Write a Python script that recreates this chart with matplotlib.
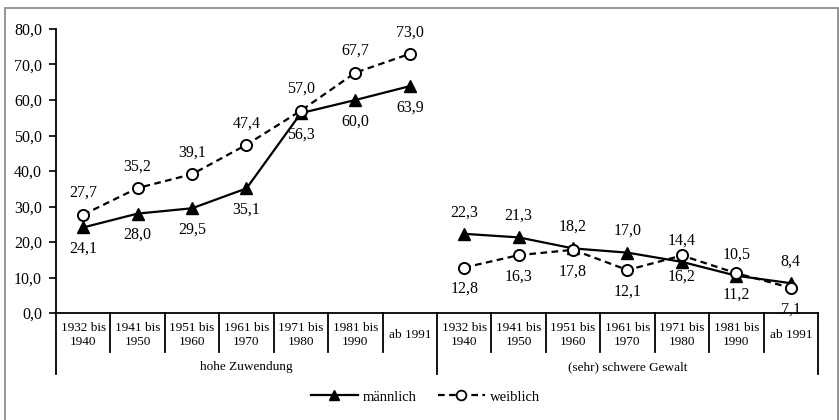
import matplotlib
matplotlib.use("Agg")
import matplotlib.pyplot as plt
from matplotlib.lines import Line2D
from matplotlib.patches import Rectangle
import matplotlib.transforms as mtransforms

plt.rcParams['font.family'] = ['Liberation Serif', 'DejaVu Serif']

cohorts = ["1932 bis\n1940", "1941 bis\n1950", "1951 bis\n1960", "1961 bis\n1970",
           "1971 bis\n1980", "1981 bis\n1990", "ab 1991"]
groups = ["hohe Zuwendung", "(sehr) schwere Gewalt"]
male_zuw = [24.1, 28.0, 29.5, 35.1, 56.3, 60.0, 63.9]
female_zuw = [27.7, 35.2, 39.1, 47.4, 57.0, 67.7, 73.0]
male_gew = [22.3, 21.3, 18.2, 17.0, 14.4, 10.5, 8.4]
female_gew = [12.8, 16.3, 17.8, 12.1, 16.2, 11.2, 7.1]
yticks = [0, 10, 20, 30, 40, 50, 60, 70, 80]

W, H = 839, 420
fig = plt.figure(figsize=(W / 100, H / 100), dpi=100)
ax_l, ax_r, ax_t, ax_b = 56, 818, 29, 313
ax = fig.add_axes([ax_l / W, 1 - ax_b / H, (ax_r - ax_l) / W, (ax_b - ax_t) / H])

# outer frame
fig.patches.append(Rectangle((5 / W, -0.05), (838 - 5) / W, 1.05 - 8 / H,
                             transform=fig.transFigure, fill=False,
                             edgecolor='#8c8c8c', linewidth=1.3))

n = len(cohorts)
x1 = list(range(n))
x2 = list(range(n, 2 * n))

lw = 1.6
ax.plot(x1, male_zuw, color='black', lw=lw, marker='^', ms=8.5, mfc='black', mec='black')
ax.plot(x2, male_gew, color='black', lw=lw, marker='^', ms=8.5, mfc='black', mec='black')
ax.plot(x1, female_zuw, color='black', lw=lw, ls=(0, (3, 2)), marker='o', ms=8,
        mfc='white', mec='black', mew=1.4)
ax.plot(x2, female_gew, color='black', lw=lw, ls=(0, (3, 2)), marker='o', ms=8,
        mfc='white', mec='black', mew=1.4)

def fmt(v):
    return f"{v:.1f}".replace('.', ',')

lab_fs = 11.5
off = 15.5
for xs, vals, sign in [(x1, female_zuw, 1), (x1, male_zuw, -1),
                       (x2, male_gew, 1), (x2, female_gew, -1)]:
    for x, v in zip(xs, vals):
        ax.annotate(fmt(v), (x, v), xytext=(0, sign * off), textcoords='offset points',
                    ha='center', va='center', fontsize=lab_fs)

ax.set_xlim(-0.5, 2 * n - 0.5)
ax.set_ylim(0, 80)
ax.set_yticks(yticks)
ax.set_yticklabels([fmt(v) for v in yticks], fontsize=11.5)
ax.tick_params(axis='y', direction='out', length=5, width=1.2, pad=5)
ax.set_xticks([])
for s in ['top', 'right']:
    ax.spines[s].set_visible(False)
ax.spines['left'].set_linewidth(1.3)
ax.spines['bottom'].set_linewidth(1.3)

trans = mtransforms.blended_transform_factory(ax.transData, ax.transAxes)
axh = ax_b - ax_t

def ya(py):
    return (ax_b - py) / axh

# category labels and cell lines
for i, lab in enumerate(cohorts * 2):
    ax.text(i, ya(335), lab, transform=trans, ha='center', va='center',
            fontsize=9.5, linespacing=1.15)
for k in range(2 * n + 1):
    xb = k - 0.5
    bottom = ya(374) if k in (0, n, 2 * n) else ya(352)
    ax.add_line(Line2D([xb, xb], [0, bottom], transform=trans, color='black',
                       lw=1.3, clip_on=False))
for g, lab in enumerate(groups):
    ax.text(g * n + (n - 1) / 2, ya(367), lab, transform=trans, ha='center',
            va='center', fontsize=9.5)

handles = [Line2D([], [], color='black', lw=lw, marker='^', ms=7, mfc='black'),
           Line2D([], [], color='black', lw=lw, ls=(0, (3, 2)), marker='o', ms=7,
                  mfc='white', mec='black', mew=1.3)]
fig.legend(handles, ['männlich', 'weiblich'], loc='center',
           bbox_to_anchor=(425.5 / W, 1 - 397 / H), ncol=2, frameon=False,
           fontsize=10.5, handlelength=3.2, columnspacing=1.45, handletextpad=0.35)

fig.savefig('out.png', dpi=100)
